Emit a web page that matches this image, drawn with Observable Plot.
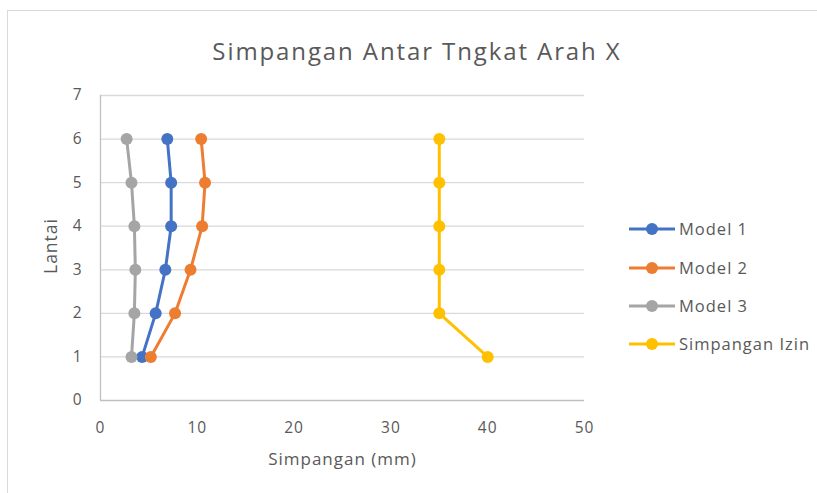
<!DOCTYPE html>
<html>
<head>
<meta charset="utf-8">
<script src="https://cdn.jsdelivr.net/npm/d3@7"></script>
<script src="https://cdn.jsdelivr.net/npm/@observablehq/plot@0.6"></script>
<style>
  body { margin: 0; background: #fff; }
  #wrap { position: relative; width: 817px; height: 493px; overflow: hidden; font-family: "Open Sans", "Liberation Sans", sans-serif; }
  #frame { position: absolute; left: 7px; top: 10px; width: 830px; height: 500px; border: 1px solid #d9d9d9; box-sizing: border-box; }
  #title { position: absolute; left: 0; width: 834px; top: 34px; text-align: center; font-size: 24px; letter-spacing: 1.9px; color: #595959; }
  #legend { position: absolute; left: 628px; top: 0; }
  .item { position: absolute; left: 0; white-space: nowrap; font-size: 16.5px; letter-spacing: 1px; color: #595959; }
  .item svg { vertical-align: middle; }
  .item span { vertical-align: middle; margin-left: 3px; }
  #chart { position: absolute; left: 0; top: 0; }
</style>
</head>
<body>
<div id="wrap">
  <div id="frame"></div>
  <div id="title">Simpangan Antar Tngkat Arah X</div>
  <div id="chart"></div>
  <div id="legend"></div>
</div>
<script>
const floors = [1, 2, 3, 4, 5, 6];
const seriesNames = ["Model 1", "Model 2", "Model 3", "Simpangan Izin"];
const model1 = [4.3, 5.7, 6.7, 7.3, 7.3, 6.9];
const model2 = [5.2, 7.7, 9.3, 10.5, 10.8, 10.4];
const model3 = [3.2, 3.5, 3.6, 3.5, 3.2, 2.7];
const izin   = [40, 35, 35, 35, 35, 35];
const colors = ["#4472C4", "#ED7D31", "#A5A5A5", "#FFC000"];
const xTicks = [0, 10, 20, 30, 40, 50];
const yTicks = [0, 1, 2, 3, 4, 5, 6, 7];

const allValues = [model1, model2, model3, izin];
const data = seriesNames.flatMap((s, i) =>
  floors.map((f, j) => ({series: s, lantai: f, simpangan: allValues[i][j]}))
);

const chart = Plot.plot({
  width: 817,
  height: 493,
  marginLeft: 100,
  marginRight: 233,
  marginTop: 95,
  marginBottom: 93,
  style: {fontFamily: "'Open Sans', 'Liberation Sans', sans-serif", fontSize: "15px", color: "#595959", background: "transparent", letterSpacing: "1px"},
  x: {domain: [0, 50], ticks: xTicks, label: null},
  y: {domain: [0, 7], ticks: yTicks, label: null},
  color: {domain: seriesNames, range: colors},
  marks: [
    Plot.gridY(yTicks.filter(d => d > 0), {stroke: "#d9d9d9", strokeOpacity: 1, strokeWidth: 1.3}),
    Plot.ruleY([0], {stroke: "#bfbfbf", strokeWidth: 1.3}),
    Plot.ruleX([0], {stroke: "#bfbfbf", strokeWidth: 1.3}),
    Plot.line(data, {x: "simpangan", y: "lantai", z: "series", stroke: "series", strokeWidth: 3}),
    Plot.dot(data, {x: "simpangan", y: "lantai", fill: "series", r: 6}),
    Plot.axisX({ticks: xTicks, tickSize: 0, tickPadding: 21, fontSize: 15.5, fill: "#595959", label: null, tickFormat: d3.format("d")}),
    Plot.axisY({ticks: yTicks, tickSize: 0, tickPadding: 18, fontSize: 15.5, fill: "#595959", label: null, tickFormat: d3.format("d")}),
    Plot.text(["Simpangan (mm)"], {x: 25, frameAnchor: "bottom", dy: 64, fontSize: 17, letterSpacing: "1.4px", fill: "#595959"}),
    Plot.text(["Lantai"], {frameAnchor: "left", textAnchor: "middle", dx: -49, dy: -2, rotate: -90, fontSize: 17.5, letterSpacing: "1.6px", fill: "#595959"})
  ]
});
document.getElementById("chart").appendChild(chart);

const legend = document.getElementById("legend");
const legendY = [226, 265, 303, 341];
seriesNames.forEach((s, i) => {
  const div = document.createElement("div");
  div.className = "item";
  div.style.top = (legendY[i] - 11) + "px";
  div.innerHTML = `<svg width="48" height="22"><line x1="1" y1="11" x2="47" y2="11" stroke="${colors[i]}" stroke-width="3"/><circle cx="24" cy="11" r="6" fill="${colors[i]}"/></svg><span>${s}</span>`;
  legend.appendChild(div);
});
</script>
</body>
</html>
